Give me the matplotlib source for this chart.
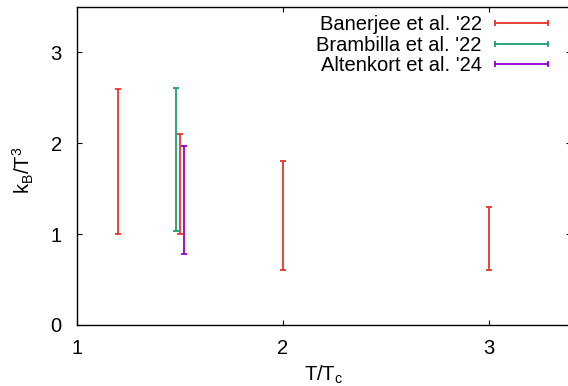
import matplotlib
matplotlib.use("Agg")
import matplotlib.pyplot as plt
from matplotlib.lines import Line2D
import numpy as np

plt.rcParams['font.family'] = ['Liberation Sans', 'DejaVu Sans']
plt.rcParams['mathtext.default'] = 'regular'

# Data: intervals (lower, upper) for k_B/T^3 vs T/T_c
ban_x = [1.2, 1.5, 2.0, 3.0]
ban_lo = [1.0, 1.0, 0.6, 0.6]
ban_hi = [2.6, 2.1, 1.8, 1.3]

bra_x = [1.48]
bra_lo = [1.03]
bra_hi = [2.61]

alt_x = [1.52]
alt_lo = [0.78]
alt_hi = [1.97]

series = [
    ("Banerjee et al. '22", ban_x, ban_lo, ban_hi, "#e8352b"),
    ("Brambilla et al. '22", bra_x, bra_lo, bra_hi, "#1a9e76"),
    ("Altenkort et al. '24", alt_x, alt_lo, alt_hi, "#9400d3"),
]

xticks = [1, 2, 3]
yticks = [0, 1, 2, 3]

FS = 14.5

fig = plt.figure(figsize=(5.68, 3.86), dpi=100)
ax = fig.add_axes([77/568, 61/386, 494/568, 318/386])

handles = []
for label, xs, lo, hi, col in series:
    xs = np.array(xs); lo = np.array(lo); hi = np.array(hi)
    mid = (lo + hi) / 2
    ax.errorbar(xs, mid, yerr=[mid - lo, hi - mid], fmt='none', ecolor=col,
                elinewidth=1.3, capsize=2.0, capthick=1.3)
    handles.append(Line2D([0, 1], [0, 0], color=col, lw=1.3, marker='|',
                          markersize=5, markeredgewidth=1.3, label=label))

ax.set_xlim(1, 3.4)
ax.set_ylim(0, 3.5)
ax.set_xticks(xticks)
ax.set_yticks(yticks)
ax.set_xticklabels([str(t) for t in xticks])
ax.set_yticklabels([str(t) for t in yticks])
ax.tick_params(direction='in', length=3.5, width=0.8, top=True, right=True,
               labelsize=FS, pad=10, colors='black')
ax.tick_params(axis='y', pad=11)
for s in ax.spines.values():
    s.set_linewidth(1.0)

ax.set_xlabel("$T/T_c$", fontsize=FS, labelpad=4)
ax.set_ylabel("$k_B/T^3$", fontsize=FS)
ax.yaxis.set_label_coords(-0.084, 0.485)

leg = ax.legend(handles=handles, loc='upper right', bbox_to_anchor=(0.966, 0.974),
                markerfirst=False, frameon=False, fontsize=FS, numpoints=2,
                handlelength=3.25, handletextpad=0.35, labelspacing=0.08,
                borderaxespad=0.0, borderpad=0.0)

fig.savefig("out.png", dpi=100)
